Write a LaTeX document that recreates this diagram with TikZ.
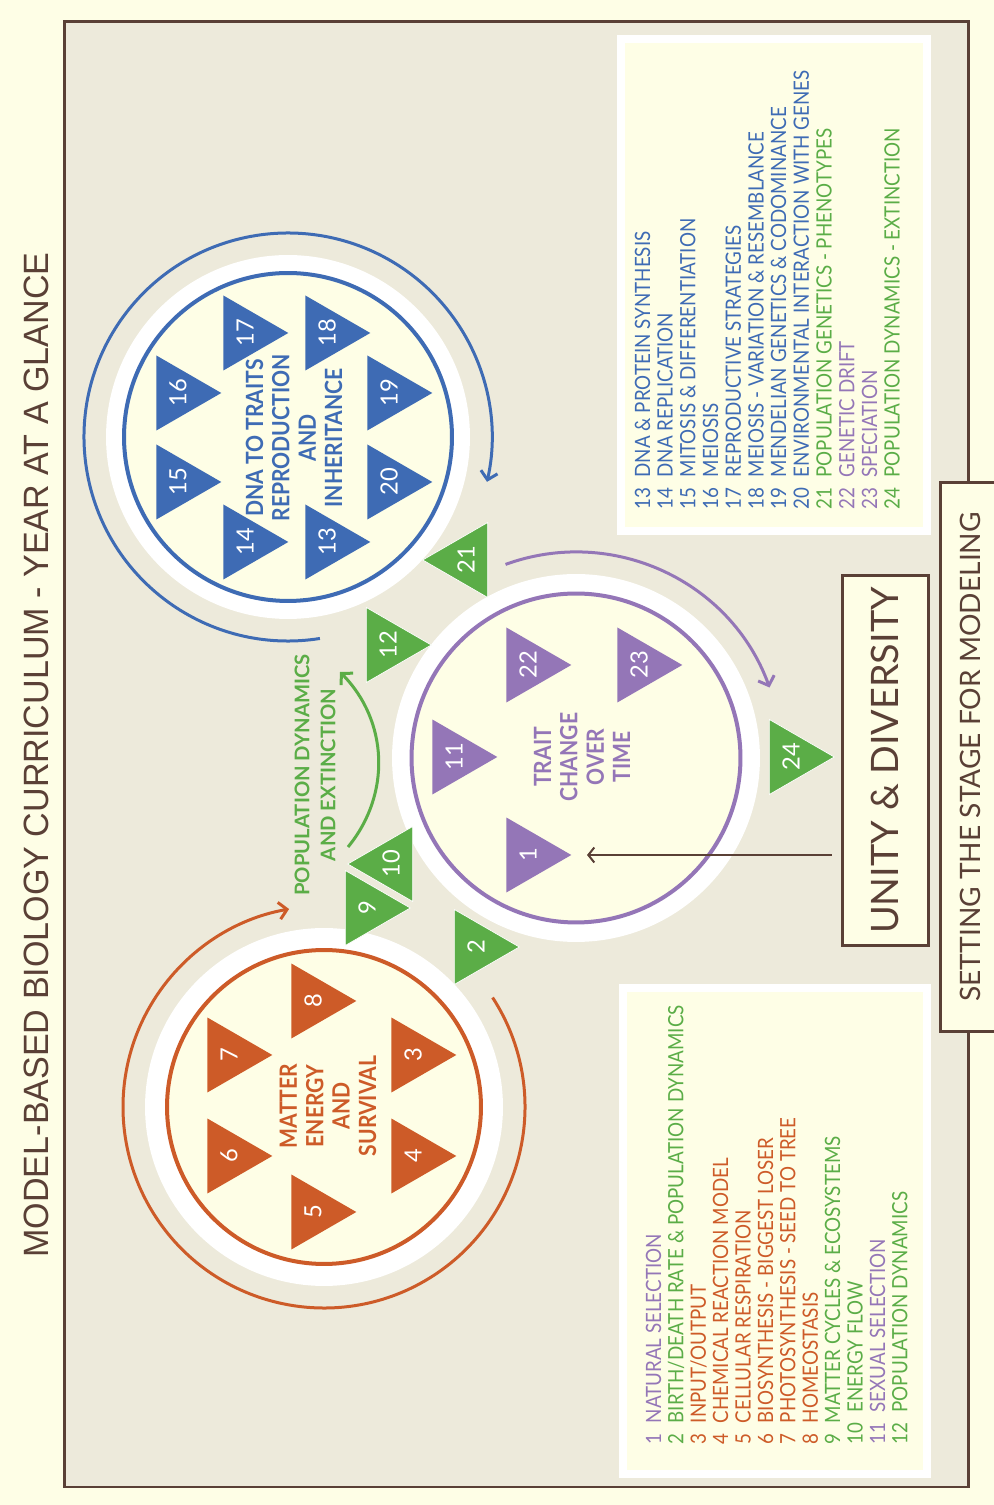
\documentclass[tikz,border=0pt]{standalone}
\usepackage{fontspec}
\setmainfont{Lato}[FakeStretch=0.89]
\newfontfamily\widefont{Lato}
\newfontfamily\titlefont{Liberation Sans}[FakeStretch=0.97]
\usetikzlibrary{shapes.geometric,arrows.meta}
\definecolor{cream}{HTML}{FEFEE6}
\definecolor{sand}{HTML}{EDEADB}
\definecolor{bark}{HTML}{5A4036}
\definecolor{rust}{HTML}{CD5B28}
\definecolor{cobalt}{HTML}{3E6BB4}
\definecolor{lilac}{HTML}{9476B7}
\definecolor{leaf}{HTML}{5BAD47}
\begin{document}
\begin{tikzpicture}[x=0.02cm,y=0.02cm,
  ring/.style={circle,fill=white,inner sep=0pt},
  core/.style={circle,fill=cream,line width=0.08cm,inner sep=0pt},
  topic/.style={regular polygon,regular polygon sides=3,minimum size=1.732cm,
    inner sep=0pt,rotate=90,shape border rotate=180,text=white,
    font=\widefont\fontsize{13.5pt}{13.5pt}\selectfont},
  topicback/.style={topic,shape border rotate=0},
  shared/.style={draw=white,line width=0.4pt,fill=leaf},
  hub/.style={rotate=90,align=center,font=\bfseries\fontsize{13.5pt}{15pt}\selectfont},
  orbit/.style={line width=0.06cm,-{Straight Barb[length=0.16cm,width=0.34cm]}},
  keybox/.style={draw=white,line width=0.16cm,fill=cream},
  entry/.style={rotate=90,anchor=base west,inner sep=0pt,font=\fontsize{12pt}{12pt}\selectfont},
  banner/.style={rotate=90,draw=bark,line width=0.06cm,fill=cream,text=bark}]

  \useasboundingbox (0,0) rectangle (994,1505);
  \fill[cream] (0,0) rectangle (994,1505);
  \draw[bark,line width=0.06cm,fill=sand] (64,18) rectangle (968,1483);

  % title
  \node[rotate=90,text=bark,font=\titlefont\fontsize{20pt}{20pt}\selectfont] (title) at (36,750)
    {MODEL-BASED BIOLOGY CURRICULUM - YEAR AT A GLANCE};

  % legend boxes
  \node[keybox,minimum width=6.13cm,minimum height=9.83cm] (keytop) at (774,1220) {};
  \node[keybox,minimum width=6.10cm,minimum height=9.73cm] (keybottom) at (775,274) {};

  \foreach \n/\c/\t in {1/lilac/NATURAL SELECTION,
      2/leaf/{BIRTH/DEATH RATE \& POPULATION DYNAMICS},
      3/rust/{INPUT/OUTPUT},
      4/rust/CHEMICAL REACTION MODEL,
      5/rust/CELLULAR RESPIRATION,
      6/rust/BIOSYNTHESIS - BIGGEST LOSER,
      7/rust/PHOTOSYNTHESIS - SEED TO TREE,
      8/rust/HOMEOSTASIS,
      9/leaf/MATTER CYCLES \& ECOSYSTEMS,
      10/leaf/ENERGY FLOW,
      11/lilac/SEXUAL SELECTION,
      12/leaf/POPULATION DYNAMICS}
  {
    \pgfmathsetmacro\xx{661+(\n-1)*22.4}
    \node[entry,text=\c] (key\n) at (\xx,60) {\n\enskip\t};
  }
  \foreach \n/\c/\t in {13/cobalt/DNA \& PROTEIN SYNTHESIS,
      14/cobalt/DNA REPLICATION,
      15/cobalt/MITOSIS \& DIFFERENTIATION,
      16/cobalt/MEIOSIS,
      17/cobalt/REPRODUCTIVE STRATEGIES,
      18/cobalt/MEIOSIS - VARIATION \& RESEMBLANCE,
      19/cobalt/MENDELIAN GENETICS \& CODOMINANCE,
      20/cobalt/ENVIRONMENTAL INTERACTION WITH GENES,
      21/leaf/POPULATION GENETICS - PHENOTYPES,
      22/lilac/GENETIC DRIFT,
      23/lilac/SPECIATION,
      24/leaf/POPULATION DYNAMICS - EXTINCTION}
  {
    \pgfmathsetmacro\xx{650+(\n-13)*22.7}
    \node[entry,text=\c] (key\n) at (\xx,995) {\n\enskip\t};
  }

  % the three units
  \node[ring,minimum size=7.16cm] (matterring) at (324,398) {};
  \node[ring,minimum size=7.28cm] (dnaring) at (288,1068) {};
  \node[ring,minimum size=7.36cm] (traitring) at (576,747) {};
  \node[core,draw=rust,minimum size=6.28cm] (matter) at (324,398) {};
  \node[core,draw=cobalt,minimum size=6.56cm] (dna) at (288,1068) {};
  \node[core,draw=lilac,minimum size=6.58cm] (trait) at (576,747) {};

  \node[hub,text=rust] (matterlabel) at (328,399) {MATTER\\ENERGY\\AND\\SURVIVAL};
  \node[hub,text=cobalt] (dnalabel) at (294,1067) {DNA TO TRAITS\\REPRODUCTION\\AND\\INHERITANCE};
  \node[hub,text=lilac] (traitlabel) at (582,748) {TRAIT\\CHANGE\\OVER\\TIME};

  % cycle arrows
  \draw[orbit,rust] ([shift={(33:201)}]matter.center) arc[start angle=33,end angle=-260,radius=201];
  \draw[orbit,cobalt] ([shift={(-81:204)}]dna.center) arc[start angle=-81,end angle=-372.7,radius=204];
  \draw[orbit,lilac] ([shift={(110:206)}]trait.center) arc[start angle=110,end angle=20,radius=206];

  \coordinate (popfrom) at (348,658);
  \coordinate (popto) at (340,833);
  \draw[orbit,leaf] (popfrom) to[bend right=42] (popto);
  \node[rotate=90,align=center,text=leaf,font=\widefont\bfseries\fontsize{11.5pt}{14.8pt}\selectfont] (poplabel) at (315,730)
    {POPULATION DYNAMICS\\AND EXTINCTION};

  % topics
  \foreach \n/\x/\y in {3/413/450,4/413/349,5/313/293,6/229/349,7/229/450,8/313/504}
    \node[topic,fill=rust] (t\n) at (\x,\y) {\n};
  \foreach \n/\x/\y in {13/327/963,14/245/963,15/178/1023,16/178/1112,
                        17/245/1172,18/327/1172,19/389/1112,20/389/1023}
    \node[topic,fill=cobalt] (t\n) at (\x,\y) {\n};
  \foreach \n/\x/\y in {1/528/650,11/454/748,22/528/840,23/639/840}
    \node[topic,fill=lilac] (t\n) at (\x,\y) {\n};
  \foreach \n/\x/\y in {2/476/558,9/367/597,12/388/860,24/791/748}
    \node[topic,shared] (t\n) at (\x,\y) {\n};
  \foreach \n/\x/\y in {10/391/641,21/466/945}
    \node[topicback,shared] (t\n) at (\x,\y) {\n};

  % banners
  \node[banner,minimum width=11cm,minimum height=1.2cm,font=\widefont\fontsize{16pt}{16pt}\selectfont] (stage) at (970,748)
    {SETTING THE STAGE FOR MODELING};
  \node[banner,minimum width=7.42cm,minimum height=1.72cm,font=\widefont\fontsize{21.5pt}{21.5pt}\selectfont] (unity) at (885,744.5)
    {UNITY \& DIVERSITY};

  \coordinate (nshead) at (587,650);
  \draw[bark,line width=0.04cm,-{Straight Barb[length=0.12cm,width=0.3cm]}]
    ([xshift=-0.18cm]unity.north |- nshead) -- (nshead);
\end{tikzpicture}
\end{document}
